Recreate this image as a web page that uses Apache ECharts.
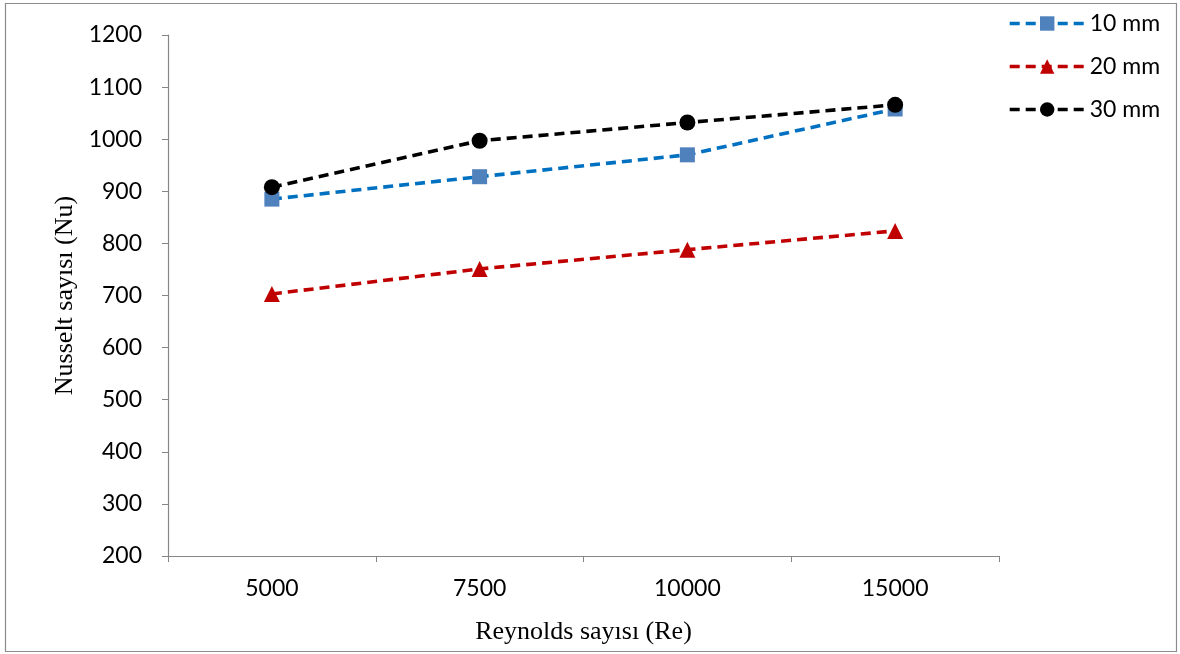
<!DOCTYPE html>
<html><head><meta charset="utf-8">
<script src="https://cdn.jsdelivr.net/npm/echarts@6/dist/echarts.min.js"></script>
<style>html,body{margin:0;padding:0;background:#fff}#c{width:1180px;height:654px}</style>
</head><body><div id="c"></div>
<script>
const categories = ['5000', '7500', '10000', '15000'];
const s10 = [885, 928, 970, 1058];
const s20 = [703, 751, 788, 824];
const s30 = [908, 997, 1032, 1066];
const seriesNames = ['10 mm', '20 mm', '30 mm'];

const chart = echarts.init(document.getElementById('c'));
const lblFont = 'Lato';
chart.setOption({
  animation: false,
  backgroundColor: '#fff',
  graphic: [{type: 'rect', shape: {x: 5.5, y: 3.5, width: 1171, height: 648}, style: {fill: 'none', stroke: '#8c8c8c', lineWidth: 1.2}, z: -1}],
  grid: {left: 168, top: 35, width: 831, height: 521, containLabel: false},
  legend: {
    orient: 'vertical', left: 1003, top: 7, itemWidth: 75, itemHeight: 18, itemGap: 20,
    textStyle: {fontFamily: lblFont, fontSize: 23, color: '#000'},
    lineStyle: {width: 3.4},
    data: seriesNames
  },
  xAxis: {
    type: 'category', data: categories, boundaryGap: true,
    name: 'Reynolds sayısı (Re)', nameLocation: 'middle', nameGap: 63,
    nameTextStyle: {fontFamily: 'Liberation Serif', fontSize: 26, color: '#000'},
    axisLine: {lineStyle: {color: '#868686', width: 1.2}},
    axisTick: {show: true, length: 6, lineStyle: {color: '#868686'}},
    axisLabel: {fontFamily: lblFont, fontSize: 23, color: '#000', margin: 21},
    splitLine: {show: false}
  },
  yAxis: {
    type: 'value', min: 200, max: 1200, interval: 100,
    name: 'Nusselt sayısı (Nu)', nameLocation: 'middle', nameGap: 88,
    nameTextStyle: {fontFamily: 'Liberation Serif', fontSize: 26, color: '#000'},
    axisLine: {show: true, lineStyle: {color: '#868686', width: 1.2}},
    axisTick: {show: true, length: 6, lineStyle: {color: '#868686'}},
    axisLabel: {fontFamily: lblFont, fontSize: 23, color: '#000', margin: 26, formatter: v => String(v)},
    splitLine: {show: false}
  },
  series: [
    {name: seriesNames[0], type: 'line', data: s10, symbol: 'rect', symbolSize: 15,
     lineStyle: {color: '#0070C0', width: 3.6, type: [10, 6]}, itemStyle: {color: '#4F81BD'}},
    {name: seriesNames[1], type: 'line', data: s20, symbol: 'triangle', symbolSize: 16,
     lineStyle: {color: '#C00000', width: 3.6, type: [10, 6]}, itemStyle: {color: '#C00000'}},
    {name: seriesNames[2], type: 'line', data: s30, symbol: 'circle', symbolSize: 16,
     lineStyle: {color: '#000000', width: 3.6, type: [10, 6]}, itemStyle: {color: '#000000'}}
  ]
});
</script></body></html>
